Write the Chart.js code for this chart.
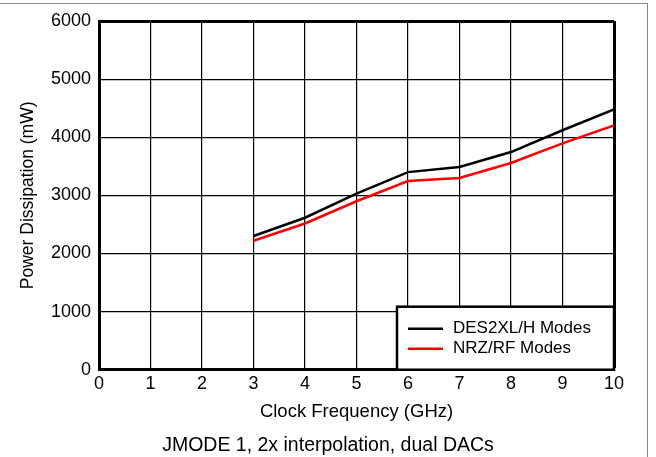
<!DOCTYPE html>
<html>
<head>
<meta charset="utf-8">
<script src="https://cdn.jsdelivr.net/npm/chart.js@4"></script>
<style>
  body { margin: 0; background: #fff; }
  .wrap { position: relative; width: 656px; height: 457px; }
  .frame { position: absolute; left: -2px; top: 3px; width: 649px; height: 460px;
           border-top: 1.5px solid #888; border-right: 1.5px solid #888; }
</style>
</head>
<body>
<div class="wrap">
  <canvas id="powerChart" width="656" height="457"></canvas>
  <div class="frame"></div>
</div>
<script>
const clockGHz = [3, 4, 5, 6, 7, 8, 9, 10];
const des2xlPower = [2300, 2615, 3030, 3400, 3487, 3745, 4120, 4478];
const nrzPower = [2218, 2516, 2898, 3247, 3300, 3556, 3895, 4203];
const legendLabels = ["DES2XL/H Modes", "NRZ/RF Modes"];
const chartTitle = "JMODE 1, 2x interpolation, dual DACs";

const font = "'Liberation Sans', Arial, sans-serif";
Chart.defaults.font.family = font;
Chart.defaults.color = "#000";

// legend box in the bottom right corner of the plot, caption centred under the whole figure
const boxLegend = {
  id: "boxLegend",
  afterDraw(chart) {
    const { ctx, chartArea } = chart;
    const w = 217, h = 63;
    const x = chartArea.right - w, y = chartArea.bottom - h;
    ctx.save();
    ctx.fillStyle = "#fff";
    ctx.fillRect(x, y, w, h);
    ctx.lineWidth = 2.5;
    ctx.strokeStyle = "#000";
    ctx.strokeRect(x, y, w, h);
    const colors = ["#000", "#ff0000"];
    ctx.font = "17px " + font;
    ctx.textBaseline = "middle";
    legendLabels.forEach((label, i) => {
      const ly = y + 22 + i * 20;
      ctx.beginPath();
      ctx.lineWidth = 2.5;
      ctx.strokeStyle = colors[i];
      ctx.moveTo(x + 11, ly);
      ctx.lineTo(x + 46, ly);
      ctx.stroke();
      ctx.fillStyle = "#000";
      ctx.fillText(label, x + 56, ly);
    });

    ctx.font = "19.5px " + font;
    ctx.textAlign = "center";
    ctx.fillText(chartTitle, chart.width / 2, chart.height - 11);
    ctx.restore();
  },
};

new Chart(document.querySelector("#powerChart"), {
  type: "line",
  data: {
    datasets: [
      {
        label: legendLabels[0],
        data: clockGHz.map((x, i) => ({ x: x, y: des2xlPower[i] })),
        borderColor: "#000",
        borderWidth: 2.5,
        pointRadius: 0,
      },
      {
        label: legendLabels[1],
        data: clockGHz.map((x, i) => ({ x: x, y: nrzPower[i] })),
        borderColor: "#ff0000",
        borderWidth: 2.5,
        pointRadius: 0,
      },
    ],
  },
  options: {
    responsive: false,
    animation: false,
    layout: { padding: { top: 21, right: 42, left: 14, bottom: 33.5 } },
    plugins: {
      legend: { display: false },
      tooltip: { enabled: false },
      title: { display: false },
    },
    scales: {
      x: {
        type: "linear",
        min: 0,
        max: 10,
        ticks: { stepSize: 1, font: { size: 18 }, padding: 4 },
        grid: {
          color: "#000",
          lineWidth: (c) => (c.tick && c.tick.value === 10 ? 3 : 1.2),
          drawTicks: false,
        },
        border: { color: "#000", width: 3 },
        title: { display: true, text: "Clock Frequency (GHz)", font: { size: 18.5 }, padding: { top: 2, bottom: 0 } },
      },
      y: {
        min: 0,
        max: 6000,
        ticks: { stepSize: 1000, font: { size: 18 }, padding: 8, callback: (v) => String(v) },
        grid: {
          color: "#000",
          lineWidth: (c) => (c.tick && c.tick.value === 6000 ? 3 : 1.2),
          drawTicks: false,
        },
        border: { color: "#000", width: 3 },
        title: { display: true, text: "Power Dissipation (mW)", font: { size: 17.5 }, padding: { bottom: 4 } },
      },
    },
  },
  plugins: [boxLegend],
});
</script>
</body>
</html>
